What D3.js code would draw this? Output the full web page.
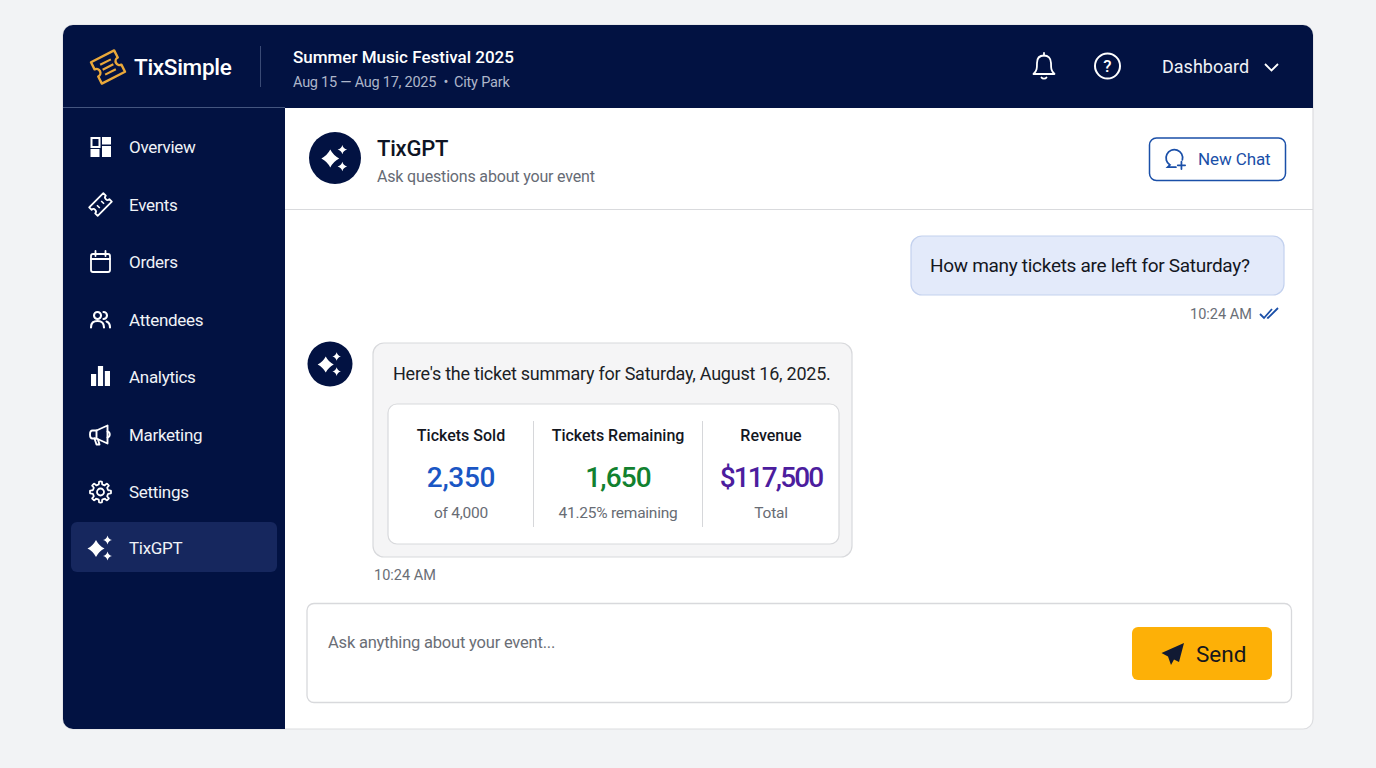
<!DOCTYPE html>
<html>

<head>
  <meta charset="utf-8">
  <script src="https://d3js.org/d3.v7.min.js"></script>
  <style>
    html, body { margin: 0; padding: 0; background: #f2f3f5; overflow: hidden; }
    svg { display: block; font-family: Roboto, sans-serif; }
  </style>
</head>

<body>
  <svg width="1376" height="768"></svg>

  <script>
  // data
  const navLabels = ["Overview", "Events", "Orders", "Attendees", "Analytics", "Marketing", "Settings", "TixGPT"];
  const navIcons = ["grid", "ticket", "calendar", "people", "bars", "megaphone", "gear", "sparkle"];
  const analyticsBars = [12, 20, 15];
  const metricLabels = ["Tickets Sold", "Tickets Remaining", "Revenue"];
  const metricValues = ["2,350", "1,650", "$117,500"];
  const metricNotes = ["of 4,000", "41.25% remaining", "Total"];

  const navy = "#021242";
  const svg = d3.select("svg");

  // scales for the metric columns
  const metricX = d3.scaleOrdinal().domain(metricLabels).range([461, 618, 771]);
  const metricColor = d3.scaleOrdinal().domain(metricLabels).range(["#1a56c4", "#12812f", "#4c1d9e"]);
  const metricSpacing = d3.scaleOrdinal().domain(metricLabels).range([-0.3, -0.9, -1.9]);

  // card shell
  const defs = svg.append("defs");
  defs.append("clipPath").attr("id", "card").append("rect")
    .attr("x", 63).attr("y", 25).attr("width", 1250).attr("height", 704).attr("rx", 10);

  svg.append("rect").attr("x", 63).attr("y", 25).attr("width", 1250).attr("height", 704).attr("rx", 10)
    .attr("fill", "#fff").attr("stroke", "#dcdde0").attr("stroke-width", 1.2);

  const shell = svg.append("g").attr("clip-path", "url(#card)");
  shell.append("rect").attr("x", 63).attr("y", 25).attr("width", 1250).attr("height", 83).attr("fill", navy);
  shell.append("rect").attr("x", 63).attr("y", 108).attr("width", 222).attr("height", 621).attr("fill", navy);
  shell.append("line").attr("x1", 63).attr("x2", 285).attr("y1", 107.5).attr("y2", 107.5).attr("stroke", "#44557f");

  function txt(parent, s, x, y, size, fill, weight, anchor, spacing) {
    return parent.append("text").attr("x", x).attr("y", y).attr("font-size", size)
      .attr("fill", fill).attr("font-weight", weight || 400).attr("text-anchor", anchor || "start")
      .attr("letter-spacing", spacing || 0).text(s);
  }

  function star(cx, cy, r, k) {
    const c = r * k;
    return `M${cx},${cy - r}Q${cx + c},${cy - c} ${cx + r},${cy}Q${cx + c},${cy + c} ${cx},${cy + r}` +
      `Q${cx - c},${cy + c} ${cx - r},${cy}Q${cx - c},${cy - c} ${cx},${cy - r}Z`;
  }

  function sparkle(g, fill, s) {
    const sp = g.append("g").attr("transform", `scale(${s})`).attr("fill", fill);
    sp.append("path").attr("d", star(-4.5, 0.5, 8.5, 0.34));
    sp.append("path").attr("d", star(7, -8, 4.5, 0.2));
    sp.append("path").attr("d", star(7, 8, 4.5, 0.2));
  }

  // header
  const logo = svg.append("g").attr("transform", "translate(108,67) rotate(-27)")
    .attr("fill", "none").attr("stroke", "#e9a83a").attr("stroke-width", 2.4).attr("stroke-linejoin", "round");
  logo.append("path").attr("d", "M-13,-12H13V-4A4,4 0 0 0 13,4V12H-13V4A4,4 0 0 0 -13,-4Z");
  logo.append("path").attr("d", "M-6,-5.500H6M-6,0H6M-6,5.500H6").attr("stroke-width", 2.2);

  txt(svg, "TixSimple", 134, 75, 22.5, "#fff", 500, "start", -0.3);
  svg.append("line").attr("x1", 260.5).attr("x2", 260.5).attr("y1", 46).attr("y2", 87).attr("stroke", "#3a4a75");
  txt(svg, "Summer Music Festival 2025", 293, 63, 17, "#fff", 500);
  txt(svg, "Aug 15 — Aug 17, 2025", 293, 87, 14.5, "#aeb6ca", 400, "start", -0.25);
  txt(svg, "•", 446, 87, 14.5, "#aeb6ca", 400, "middle");
  txt(svg, "City Park", 454, 87, 14.5, "#aeb6ca", 400, "start", -0.2);

  const bell = svg.append("g").attr("transform", "translate(1044,66)").attr("fill", "none")
    .attr("stroke", "#fff").attr("stroke-width", 1.8).attr("stroke-linecap", "round").attr("stroke-linejoin", "round");
  bell.append("path").attr("d", "M-10.5,8C-7,5 -7,2 -7,-3C-7,-8 -4,-10.5 0,-10.5C4,-10.5 7,-8 7,-3C7,2 7,5 10.5,8Z");
  bell.append("path").attr("d", "M0,-13V-10.5M-2.5,11.5C-1.5,13 1.5,13 2.5,11.5");

  const help = svg.append("g").attr("transform", "translate(1107.500,66)");
  help.append("circle").attr("r", 12.5).attr("fill", "none").attr("stroke", "#fff").attr("stroke-width", 2);
  txt(help, "?", 0, 6, 17, "#fff", 500, "middle");

  txt(svg, "Dashboard", 1162, 73, 18, "#f0f2f7");
  svg.append("path").attr("d", "M1265,64L1271.500,70.500L1278,64").attr("fill", "none").attr("stroke", "#fff").attr("stroke-width", 1.8);

  // sidebar
  const navY = d3.scaleLinear().domain([0, 6, 7]).range([147, 492, 548]);
  const barX = d3.scaleBand().domain(d3.range(analyticsBars.length)).range([-9.5, 9.5]).paddingInner(0.25);
  const barH = d3.scaleLinear().domain([0, 20]).range([0, 20]);

  svg.append("rect").attr("x", 71).attr("y", 522).attr("width", 206).attr("height", 50).attr("rx", 6).attr("fill", "#16275e");

  const iconDraw = {
    grid(g) {
      g.append("rect").attr("x", -9).attr("y", -9).attr("width", 8).attr("height", 9).attr("fill", "none").attr("stroke", "#fff").attr("stroke-width", 2);
      g.append("rect").attr("x", 1.5).attr("y", -10).attr("width", 9).attr("height", 7.5).attr("fill", "#fff");
      g.append("rect").attr("x", -10).attr("y", 2).attr("width", 9).attr("height", 8).attr("fill", "#fff");
      g.append("rect").attr("x", 1.5).attr("y", -1).attr("width", 9).attr("height", 11).attr("fill", "#fff");
    },
    ticket(g) {
      const t = g.append("g").attr("transform", "rotate(-45)").attr("fill", "none").attr("stroke", "#fff").attr("stroke-width", 1.8).attr("stroke-linejoin", "round");
      t.append("path").attr("d", "M-10,-6H10V-2.500A2.500,2.500 0 0 0 10,2.500V6H-10V2.500A2.500,2.500 0 0 0 -10,-2.500Z");
      t.append("path").attr("d", "M-3,-2V2M3,-2V2").attr("stroke-width", 1.6);
    },
    calendar(g) {
      const c = g.append("g").attr("fill", "none").attr("stroke", "#fff").attr("stroke-width", 1.8).attr("stroke-linecap", "round");
      c.append("rect").attr("x", -9.500).attr("y", -8).attr("width", 19).attr("height", 18).attr("rx", 2);
      c.append("path").attr("d", "M-9.500,-3H9.500M-5,-11V-6M5,-11V-6");
    },
    people(g) {
      const p = g.append("g").attr("fill", "none").attr("stroke", "#fff").attr("stroke-width", 2.1).attr("stroke-linecap", "round");
      p.append("circle").attr("cx", -3).attr("cy", -4).attr("r", 3.500);
      p.append("path").attr("d", "M-9.500,8C-9.500,3 -7,1.500 -3,1.500C1,1.500 3.500,3 3.500,8");
      p.append("path").attr("d", "M3,-7.500A3.500,3.500 0 0 1 3,-0.500M6,2C8.500,3 9.500,5 9.500,8");
    },
    bars(g) {
      g.selectAll("rect").data(analyticsBars).join("rect")
        .attr("x", (d, i) => barX(i)).attr("width", barX.bandwidth())
        .attr("y", d => 9 - barH(d)).attr("height", d => barH(d)).attr("fill", "#fff");
    },
    megaphone(g) {
      const m = g.append("g").attr("fill", "none").attr("stroke", "#fff").attr("stroke-width", 1.9).attr("stroke-linejoin", "round").attr("stroke-linecap", "round");
      m.append("path").attr("d", "M-4,-4L7,-9V9L-4,4H-8C-9.500,4 -10.500,3 -10.500,0C-10.500,-3 -9.500,-4 -8,-4Z");
      m.append("path").attr("d", "M-4,-4V4M7,-3C10,-2 10,2 7,3M-6,4L-4,10H-1L-2.500,5");
    },
    gear(g) {
      const teeth = d3.range(8).map(i => i * 45);
      const ge = g.append("g").attr("fill", "none").attr("stroke", "#fff").attr("stroke-width", 1.8);
      ge.append("circle").attr("r", 3.500);
      const pts = teeth.flatMap(a => [[a - 12, 8], [a - 8, 10.500], [a + 8, 10.500], [a + 12, 8]])
        .map(([a, r]) => [r * Math.cos(a * Math.PI / 180), r * Math.sin(a * Math.PI / 180)]);
      ge.append("path").attr("d", d3.line().curve(d3.curveCardinalClosed.tension(0.6))(pts));
    },
    sparkle(g) { sparkle(g, "#fff", 1); }
  };

  const nav = svg.append("g").selectAll("g").data(navLabels).join("g")
    .attr("transform", (d, i) => `translate(0,${navY(i)})`);
  nav.append("text").attr("x", 129).attr("y", 6).attr("font-size", 17).attr("letter-spacing", -0.3)
    .attr("fill", "#f0f2f7").text(d => d);
  nav.append("g").attr("transform", "translate(100.500,0)").each(function (d, i) {
    iconDraw[navIcons[i]](d3.select(this));
  });

  // chat header
  const bigAvatar = svg.append("g").attr("transform", "translate(335,158)");
  bigAvatar.append("circle").attr("r", 26).attr("fill", navy);
  sparkle(bigAvatar, "#fff", 1.05);
  txt(svg, "TixGPT", 377, 156, 22, "#0e1424", 500, "start", -0.2);
  txt(svg, "Ask questions about your event", 377, 182, 16, "#666b75", 400, "start", -0.17);
  svg.append("line").attr("x1", 285).attr("x2", 1313).attr("y1", 209.500).attr("y2", 209.500).attr("stroke", "#d9dadd");

  svg.append("rect").attr("x", 1149.500).attr("y", 138).attr("width", 136).attr("height", 42.500).attr("rx", 7)
    .attr("fill", "#fff").attr("stroke", "#1a4fa8").attr("stroke-width", 1.500);
  const plus = svg.append("g").attr("transform", "translate(1175,158) scale(0.92)").attr("fill", "none").attr("stroke", "#1a4fa8")
    .attr("stroke-width", 1.900).attr("stroke-linecap", "round");
  plus.append("path").attr("d", "M8,2A9,9 0 1 0 -5.500,7.500L-8,10H1");
  plus.append("path").attr("d", "M7,4V12M3,8H11");
  txt(svg, "New Chat", 1198, 165, 17, "#1a4fa8", 400, "start", -0.1);

  // user bubble
  svg.append("rect").attr("x", 911).attr("y", 236).attr("width", 373).attr("height", 59).attr("rx", 11)
    .attr("fill", "#e3eafa").attr("stroke", "#c3d1ee").attr("stroke-width", 1.200);
  txt(svg, "How many tickets are left for Saturday?", 930, 272, 19, "#14171f", 400, "start", -0.3);
  txt(svg, "10:24 AM", 1190, 319, 14.500, "#6a6e76");
  svg.append("path").attr("d", "M1260,314L1264,318L1272,309M1267,317.500L1268,318L1278,308")
    .attr("fill", "none").attr("stroke", "#1a4fa8").attr("stroke-width", 1.800);

  // bot bubble
  const smallAvatar = svg.append("g").attr("transform", "translate(330,364)");
  smallAvatar.append("circle").attr("r", 22.500).attr("fill", navy);
  sparkle(smallAvatar, "#fff", 0.95);

  svg.append("rect").attr("x", 373).attr("y", 343).attr("width", 479).attr("height", 214).attr("rx", 11)
    .attr("fill", "#f5f5f6").attr("stroke", "#d8d9dc").attr("stroke-width", 1.200);
  txt(svg, "Here's the ticket summary for Saturday, August 16, 2025.", 393, 380, 18, "#1c1f26", 400, "start", -0.25);
  svg.append("rect").attr("x", 388).attr("y", 404).attr("width", 451).attr("height", 140).attr("rx", 9)
    .attr("fill", "#fff").attr("stroke", "#d8d9dc").attr("stroke-width", 1.200);

  const metric = svg.append("g").selectAll("g").data(metricLabels).join("g")
    .attr("transform", d => `translate(${metricX(d)},0)`).attr("text-anchor", "middle");
  metric.append("text").attr("y", 441).attr("font-size", 16).attr("font-weight", 500).attr("fill", "#14171f").text(d => d);
  metric.append("text").attr("y", 487).attr("font-size", 28).attr("font-weight", 500)
    .attr("letter-spacing", d => metricSpacing(d)).attr("fill", d => metricColor(d)).text((d, i) => metricValues[i]);
  metric.append("text").attr("y", 518).attr("font-size", 15.5).attr("letter-spacing", -0.25).attr("fill", "#686c74").text((d, i) => metricNotes[i]);

  svg.selectAll("line.div").data([533.500, 702.500]).join("line").attr("class", "div")
    .attr("x1", d => d).attr("x2", d => d).attr("y1", 421).attr("y2", 527).attr("stroke", "#d6d7da");

  txt(svg, "10:24 AM", 374, 580, 14.500, "#6a6e76");

  // input
  svg.append("rect").attr("x", 307).attr("y", 603.500).attr("width", 984.500).attr("height", 99).attr("rx", 7)
    .attr("fill", "#fff").attr("stroke", "#d8d9dc").attr("stroke-width", 1.300);
  txt(svg, "Ask anything about your event...", 328, 648, 16.500, "#6a6e76", 400, "start", -0.2);
  svg.append("rect").attr("x", 1132).attr("y", 627).attr("width", 140).attr("height", 53).attr("rx", 6).attr("fill", "#fdb007");
  svg.append("path").attr("d", "M1184,643L1161.500,653L1168,656.500L1171,665L1174,659.500L1179,662Z").attr("fill", "#111a33");
  txt(svg, "Send", 1196, 662, 22.500, "#15171d", 400);
</script>
</body>

</html>
